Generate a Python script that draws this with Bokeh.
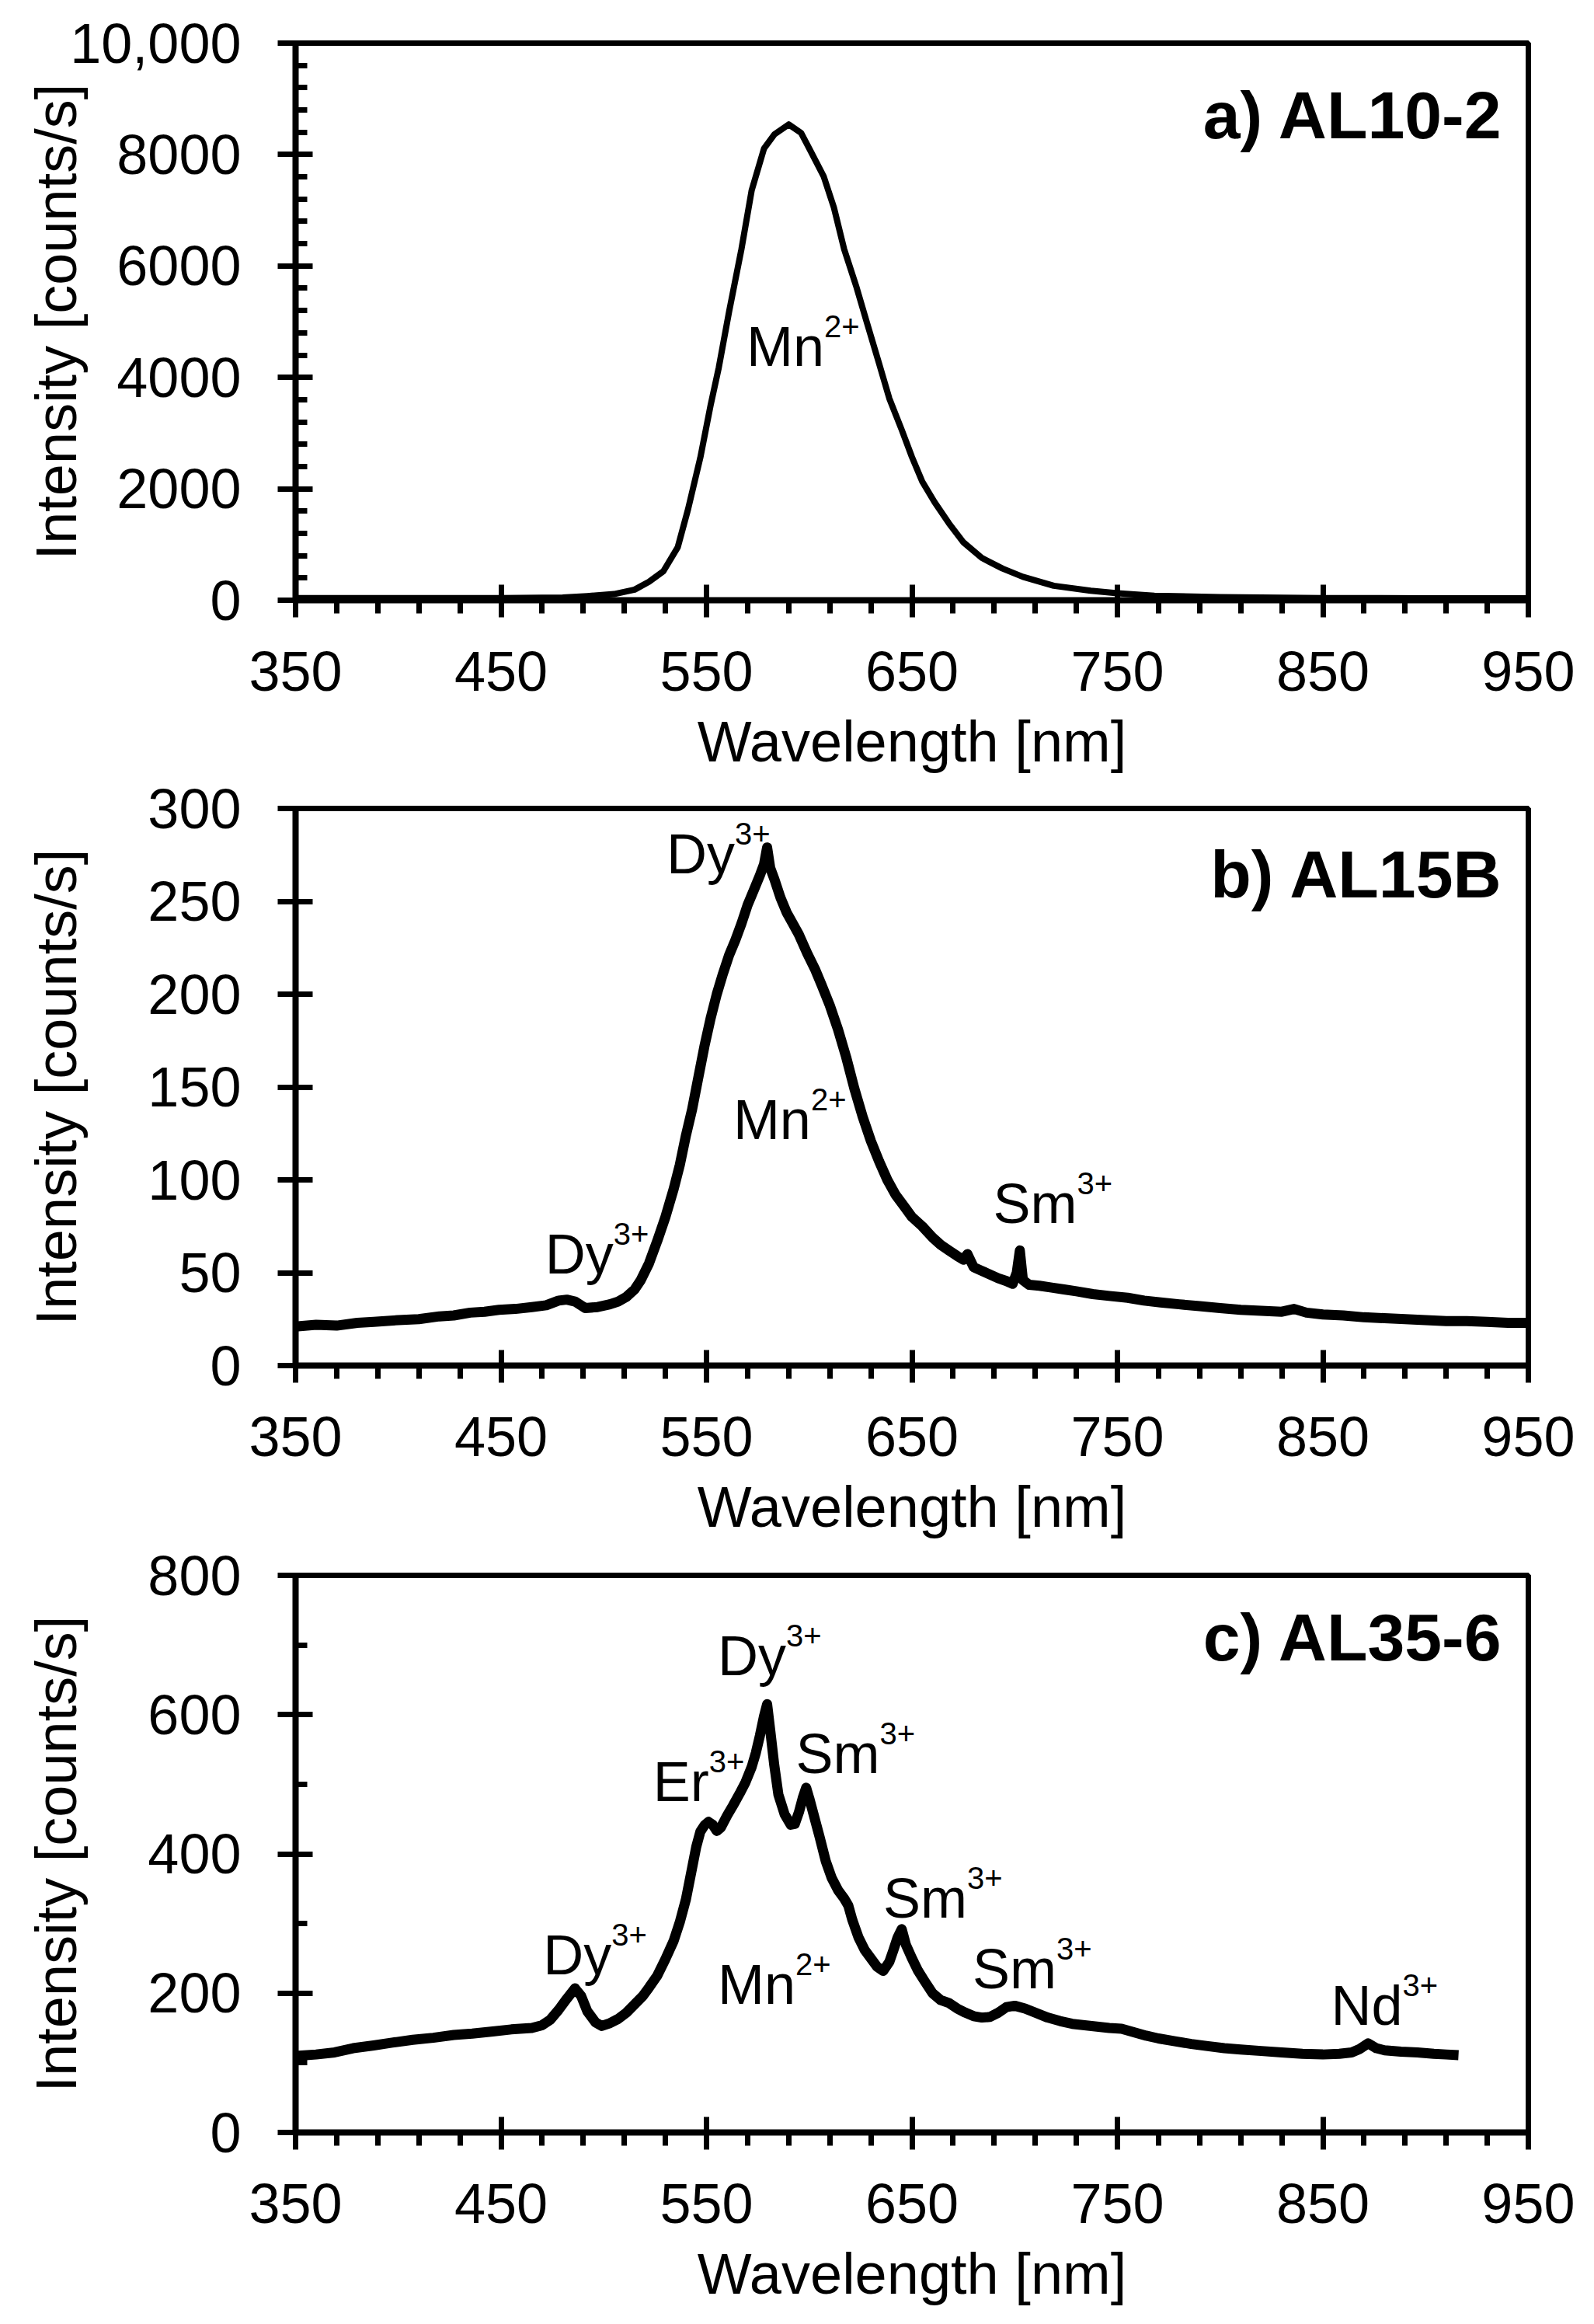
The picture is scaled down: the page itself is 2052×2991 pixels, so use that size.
from bokeh.plotting import figure
from bokeh.layouts import column
from bokeh.models import Range1d, FixedTicker, ColumnDataSource
from bokeh.core.properties import value
from bokeh.embed import file_html
from bokeh.resources import INLINE

FONT = "Liberation Sans"

# ---------------- data ----------------
x_major = [350, 450, 550, 650, 750, 850, 950]
x_minor = list(range(350, 951, 20))

# a) AL10-2
wl_a = [350, 400, 450, 480, 492, 505, 515, 522, 529, 536, 541, 547, 552, 556, 561, 567,
        572, 578, 583, 590, 596, 601, 607, 612, 617, 623, 628, 634, 639, 645, 650, 655,
        661, 668, 675, 684, 694, 704, 719, 737, 750, 768, 800, 850, 900, 950]
int_a = [40, 40, 40, 50, 75, 110, 190, 330, 520, 950, 1630, 2560, 3500, 4180, 5180, 6300,
         7360, 8110, 8360, 8540, 8390, 8040, 7610, 7050, 6300, 5620, 4990, 4250, 3620, 3060, 2570, 2130,
         1760, 1380, 1040, 760, 570, 420, 260, 170, 125, 80, 55, 40, 35, 35]

# b) AL15B
wl_b = [350, 360, 370, 380, 388, 400, 410, 420, 427, 435, 442, 449, 457, 465, 472, 478,
        482, 486, 491, 497, 503, 507, 511, 515, 518, 522, 526, 530, 534, 537, 540, 543,
        546, 549, 552, 555, 558, 561, 564, 567, 570, 573, 576, 578, 579.5, 581, 583, 586,
        589, 592, 595, 599, 603, 606, 610, 614, 618, 622, 626, 630, 634, 638, 642, 646,
        650, 655, 660, 664, 668, 672, 675, 677, 680, 684, 688, 692, 696, 699, 701, 702.5,
        704, 707, 712, 718, 724, 730, 738, 746, 755, 763, 771, 780, 790, 800, 810, 820,
        830, 836, 842, 850, 860, 870, 880, 890, 900, 910, 920, 930, 940, 950]
int_b = [21, 22, 21.5, 23, 23.5, 24.5, 25, 26.5, 27, 28.5, 29, 30, 30.5, 31.5, 32.5, 35,
         35.5, 34.5, 31, 31.5, 33, 34.5, 37, 41, 46, 55, 67, 80, 95, 108, 124, 138,
         155, 172, 187, 200, 211, 221, 229, 238, 248, 256, 264, 270, 279, 268, 262, 252,
         244, 238, 232, 222, 213, 205, 194, 181, 166, 149, 134, 121, 110, 100, 92, 86,
         80, 75, 69, 65, 62, 59, 57, 60, 53, 51, 49, 47, 45.5, 44, 50, 62,
         46, 43.5, 43, 42, 41, 40, 38.5, 37.5, 36.5, 35, 34, 33, 32, 31, 30, 29.5,
         29, 30.5, 28.5, 27.5, 27, 26, 25.5, 25, 24.5, 24, 24, 23.5, 23, 23]

# c) AL35-6
wl_c = [350, 360, 369, 378, 388, 397, 407, 417, 427, 436, 446, 455, 465, 470, 474, 478,
        482, 486, 489, 492, 496, 499, 503, 507, 511, 515, 519, 522, 526, 530, 534, 537,
        540, 543, 545, 547, 549, 551, 553, 555, 557, 560, 563, 566, 569, 572, 574, 576,
        578, 579.5, 581, 583, 585, 588, 591, 593, 595, 597, 598.5, 600, 602, 605, 608, 611,
        614, 617, 619, 621, 624, 627, 630, 633, 636, 639, 641, 643, 645, 647, 650, 653,
        656, 660, 664, 668, 672, 676, 680, 684, 688, 692, 696, 700, 705, 710, 716, 722,
        728, 734, 740, 746, 752, 758, 764, 770, 778, 786, 794, 802, 810, 820, 830, 840,
        850, 858, 864, 868, 872, 876, 880, 888, 896, 904, 910, 916]
int_c = [110, 112, 115, 121, 125, 129, 133, 136, 140, 142, 145, 148, 150, 154, 162, 176,
         192, 207, 196, 174, 158, 153, 157, 163, 172, 184, 196, 208, 225, 249, 275, 302,
         335, 380, 410, 432, 441, 446, 442, 433, 438, 455, 470, 486, 503, 525, 545, 570,
         598, 615, 578, 527, 485, 457, 442, 443, 460, 482, 495, 480, 458, 425, 390, 365,
         348, 336, 326, 305, 280, 262, 250, 238, 232, 245, 262, 280, 292, 270, 250, 232,
         218, 200, 190, 186, 178, 172, 167, 165, 166, 172, 180, 182, 178, 172, 165, 160,
         156, 154, 152, 150, 149, 144, 139, 135, 131, 127, 124, 121, 119, 117, 115, 113,
         112, 113, 115, 120, 128, 121, 118, 116, 115, 113, 112, 111]

# peak labels: element, charge, x (nm), y (baseline, counts/s)
lab_a_el = ["Mn"]
lab_a_ch = ["2+"]
lab_a_x = [569.5]
lab_a_y = [4280]

lab_b_el = ["Dy", "Mn", "Dy", "Sm"]
lab_b_ch = ["3+", "2+", "3+", "3+"]
lab_b_x = [530.5, 563, 471.5, 689.5]
lab_b_y = [267, 124, 51.5, 79]

lab_c_el = ["Dy", "Er", "Sm", "Sm", "Sm", "Dy", "Mn", "Nd"]
lab_c_ch = ["3+", "3+", "3+", "3+", "3+", "3+", "2+", "3+"]
lab_c_x = [555.5, 524, 593.5, 636, 679.5, 470.5, 555.5, 854]
lab_c_y = [662, 481, 522, 314, 212, 233, 190, 160]

EM = {"Mn": 1.389, "Dy": 1.222, "Sm": 1.5, "Er": 1.0, "Nd": 1.278}


def panel(wl, inten, ymax, yticks, yminor, overrides, title, title_y,
          el, ch, lx, ly, lw, ylab_standoff, top_border):
    p = figure(frame_width=1587, frame_height=717,
               x_range=Range1d(350, 950), y_range=Range1d(0, ymax),
               output_backend="svg", toolbar_location=None,
               min_border_left=380, min_border_right=60,
               min_border_top=top_border, min_border_bottom=10,
               background_fill_color="white", border_fill_color="white")
    p.xgrid.visible = False
    p.ygrid.visible = False
    p.outline_line_color = "black"
    p.outline_line_width = 7

    p.xaxis.ticker = FixedTicker(ticks=x_major, minor_ticks=x_minor)
    p.yaxis.ticker = FixedTicker(ticks=yticks, minor_ticks=yminor)
    p.yaxis.major_label_overrides = overrides

    for ax in (p.xaxis[0], p.yaxis[0]):
        ax.axis_line_color = "black"
        ax.axis_line_width = 8
        ax.major_tick_line_color = "black"
        ax.major_tick_line_width = 7
        ax.minor_tick_line_color = "black"
        ax.minor_tick_line_width = 7
        ax.major_label_text_font = FONT
        ax.major_label_text_font_size = "72px"
        ax.major_label_text_color = "black"
        ax.axis_label_text_font = FONT
        ax.axis_label_text_font_size = "74px"
        ax.axis_label_text_font_style = "normal"
        ax.axis_label_text_color = "black"

    xa = p.xaxis[0]
    xa.axis_label = "Wavelength [nm]"
    xa.major_tick_in = 20
    xa.major_tick_out = 22
    xa.minor_tick_in = 0
    xa.minor_tick_out = 17
    xa.major_label_standoff = 44
    xa.axis_label_standoff = 21

    ya = p.yaxis[0]
    ya.axis_label = "Intensity [counts/s]"
    ya.major_tick_in = 22
    ya.major_tick_out = 23
    ya.minor_tick_in = 15
    ya.minor_tick_out = 0
    ya.major_label_standoff = 47
    ya.axis_label_standoff = ylab_standoff

    p.line(wl, inten, line_color="black", line_width=lw, line_join="round")

    src = ColumnDataSource(dict(x=lx, y=ly, el=el, ch=ch,
                                xo=[EM[e] * 72 for e in el]))
    p.text(x="x", y="y", text="el", source=src, y_offset=-20,
           text_font=value(FONT), text_font_size="72px", text_align="left",
           text_baseline="alphabetic", text_color="black")
    p.text(x="x", y="y", text="ch", source=src, x_offset="xo", y_offset=-46,
           text_font=value(FONT), text_font_size="40px", text_align="left",
           text_baseline="alphabetic", text_color="black")

    p.text(x=[938], y=[title_y], text=[title], y_offset=-28,
           text_font=value(FONT), text_font_size="86px", text_font_style="bold",
           text_align="right", text_baseline="alphabetic", text_color="black")
    return p


pa = panel(wl_a, int_a, 10000, [0, 2000, 4000, 6000, 8000, 10000],
           list(range(0, 10001, 400)), {10000: "10,000"}, "a) AL10-2", 8326,
           lab_a_el, lab_a_ch, lab_a_x, lab_a_y, 8, -27, 55)
pb = panel(wl_b, int_b, 300, [0, 50, 100, 150, 200, 250, 300], [],
           {}, "b) AL15B", 253,
           lab_b_el, lab_b_ch, lab_b_x, lab_b_y, 13, 73, 42)
pc = panel(wl_c, int_c, 800, [0, 200, 400, 600, 800], [100, 300, 500, 700],
           {}, "c) AL35-6", 680,
           lab_c_el, lab_c_ch, lab_c_x, lab_c_y, 13, 73, 44)

layout = column(pa, pb, pc, spacing=0)
open("out.html", "w").write(file_html(layout, INLINE))
